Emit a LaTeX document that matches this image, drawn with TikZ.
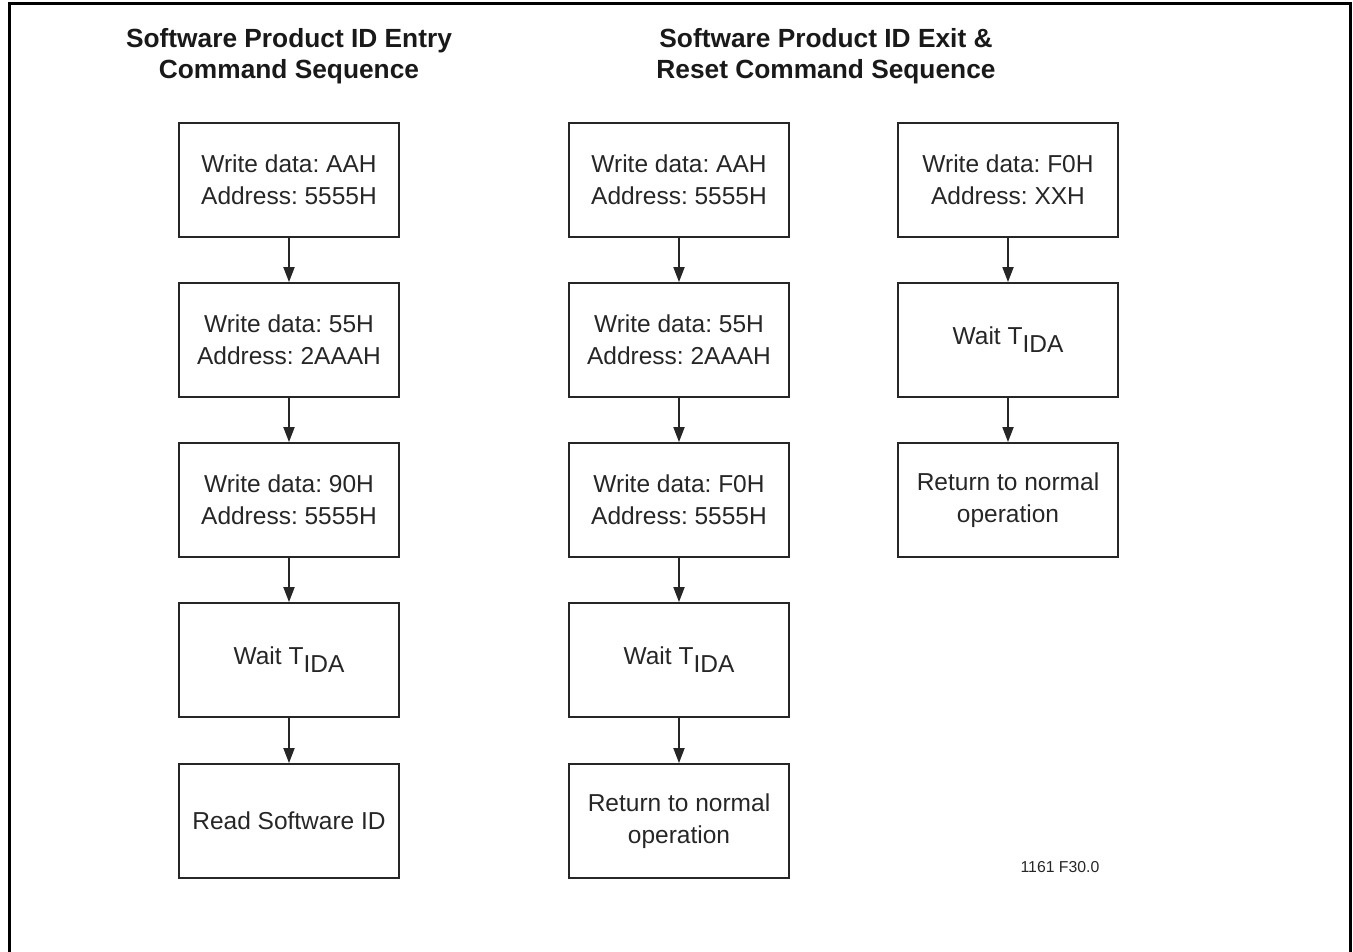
\documentclass[tikz,border=0pt]{standalone}
\usepackage{fontspec}
\setmainfont{Liberation Sans}
\usetikzlibrary{arrows.meta}
\newcommand{\tida}{Wait T\raisebox{-0.32em}{IDA}}
\frenchspacing
\begin{document}
\begin{tikzpicture}[x=1pt,y=-1pt,
  stepbox/.style={draw=black!85,line width=1.8pt,minimum width=220pt,minimum height=114pt,
    align=center,inner sep=2pt,text=black!85,font=\fontsize{24.5}{32}\selectfont},
  flow/.style={draw=black!85,line width=1.8pt,-{Triangle[length=15pt,width=11pt]}},
  ttl/.style={align=center,text=black!90,font=\bfseries\fontsize{26.3}{31}\selectfont}]
\useasboundingbox (0,0) rectangle (1353,952);
\draw[line width=3pt] (9,960) -- (9,4) -- (1350,4) -- (1350,960);
\node[ttl] (t1) at (289,56) {Software Product ID Entry\\Command Sequence};
\node[ttl] (t2) at (826,56) {Software Product ID Exit \&\\Reset Command Sequence};
% column 1
\node[stepbox] (a1) at (289,180) {Write data: AAH\\Address: 5555H};
\node[stepbox] (a2) at (289,340) {Write data: 55H\\Address: 2AAAH};
\node[stepbox] (a3) at (289,500) {Write data: 90H\\Address: 5555H};
\node[stepbox] (a4) at (289,660) {\tida};
\node[stepbox] (a5) at (289,821) {Read Software ID};
% column 2
\node[stepbox] (b1) at (679,180) {Write data: AAH\\Address: 5555H};
\node[stepbox] (b2) at (679,340) {Write data: 55H\\Address: 2AAAH};
\node[stepbox] (b3) at (679,500) {Write data: F0H\\Address: 5555H};
\node[stepbox] (b4) at (679,660) {\tida};
\node[stepbox] (b5) at (679,821) {Return to normal\\operation};
% column 3
\node[stepbox] (c1) at (1008,180) {Write data: F0H\\Address: XXH};
\node[stepbox] (c2) at (1008,340) {\tida};
\node[stepbox] (c3) at (1008,500) {Return to normal\\operation};
\foreach \p/\q in {a1/a2,a2/a3,a3/a4,a4/a5,b1/b2,b2/b3,b3/b4,b4/b5,c1/c2,c2/c3}
  \draw[flow] (\p.south) -- (\q.north);
\node[text=black!85,font=\fontsize{15.8}{18}\selectfont] (lbl) at (1060,867) {1161 F30.0};
\end{tikzpicture}
\end{document}
